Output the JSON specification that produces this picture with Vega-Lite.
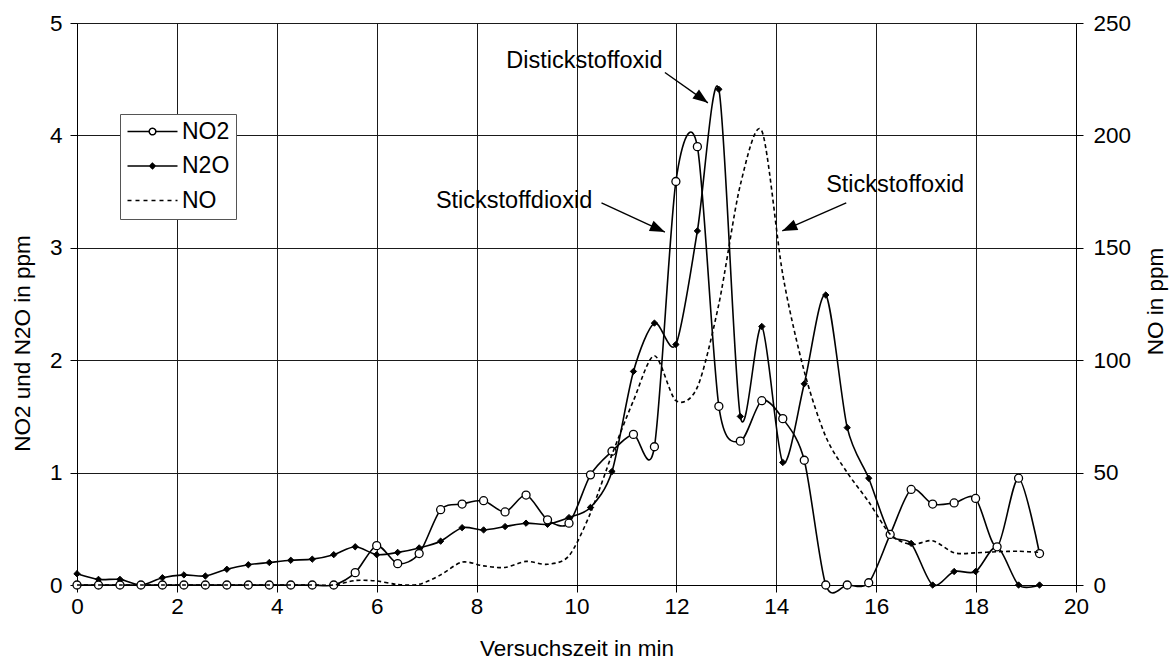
{
  "$schema": "https://vega.github.io/schema/vega-lite/v6.json",
  "width": 999,
  "height": 562,
  "autosize": {"type": "none"},
  "padding": {"left": 77, "top": 23, "right": 98, "bottom": 87},
  "background": "white",
  "config": {
    "font": "Liberation Sans",
    "view": {"stroke": null},
    "axis": {
      "labelFont": "Liberation Sans",
      "titleFont": "Liberation Sans",
      "labelFontSize": 22.5,
      "titleFontSize": 22.5,
      "titleFontWeight": "normal",
      "labelColor": "#000",
      "titleColor": "#000",
      "tickColor": "#000",
      "domainColor": "#000",
      "gridColor": "#1a1a1a",
      "gridWidth": 1,
      "tickSize": 7,
      "labelFlush": false,
      "labelOverlap": false
    },
    "legend": {
      "orient": "none",
      "legendX": 43,
      "legendY": 91,
      "padding": 6,
      "rowPadding": 10.5,
      "symbolSize": 100,
      "symbolStrokeWidth": 1.5,
      "symbolOpacity": 1,
      "labelOffset": 33,
      "labelFont": "Liberation Sans",
      "labelFontSize": 23,
      "labelColor": "#000",
      "strokeColor": "#555",
      "fillColor": "#fff"
    }
  },
  "datasets": {
    "messung": [
      {"t": 0, "series": "NO2", "ppm": 0}, {"t": 0.43, "series": "NO2", "ppm": 0}, {"t": 0.86, "series": "NO2", "ppm": 0},
      {"t": 1.28, "series": "NO2", "ppm": 0}, {"t": 1.71, "series": "NO2", "ppm": 0}, {"t": 2.14, "series": "NO2", "ppm": 0},
      {"t": 2.57, "series": "NO2", "ppm": 0}, {"t": 3.0, "series": "NO2", "ppm": 0}, {"t": 3.43, "series": "NO2", "ppm": 0},
      {"t": 3.85, "series": "NO2", "ppm": 0}, {"t": 4.28, "series": "NO2", "ppm": 0}, {"t": 4.71, "series": "NO2", "ppm": 0},
      {"t": 5.14, "series": "NO2", "ppm": 0}, {"t": 5.57, "series": "NO2", "ppm": 0.11}, {"t": 6.0, "series": "NO2", "ppm": 0.35},
      {"t": 6.42, "series": "NO2", "ppm": 0.19}, {"t": 6.85, "series": "NO2", "ppm": 0.28}, {"t": 7.28, "series": "NO2", "ppm": 0.67},
      {"t": 7.71, "series": "NO2", "ppm": 0.72}, {"t": 8.14, "series": "NO2", "ppm": 0.75}, {"t": 8.57, "series": "NO2", "ppm": 0.65},
      {"t": 8.99, "series": "NO2", "ppm": 0.8}, {"t": 9.42, "series": "NO2", "ppm": 0.58}, {"t": 9.85, "series": "NO2", "ppm": 0.55},
      {"t": 10.28, "series": "NO2", "ppm": 0.98}, {"t": 10.71, "series": "NO2", "ppm": 1.19}, {"t": 11.14, "series": "NO2", "ppm": 1.34},
      {"t": 11.56, "series": "NO2", "ppm": 1.23}, {"t": 11.99, "series": "NO2", "ppm": 3.59}, {"t": 12.42, "series": "NO2", "ppm": 3.9},
      {"t": 12.85, "series": "NO2", "ppm": 1.59}, {"t": 13.28, "series": "NO2", "ppm": 1.28}, {"t": 13.71, "series": "NO2", "ppm": 1.64},
      {"t": 14.13, "series": "NO2", "ppm": 1.48}, {"t": 14.56, "series": "NO2", "ppm": 1.11}, {"t": 14.99, "series": "NO2", "ppm": 0},
      {"t": 15.42, "series": "NO2", "ppm": 0}, {"t": 15.85, "series": "NO2", "ppm": 0.02}, {"t": 16.28, "series": "NO2", "ppm": 0.45},
      {"t": 16.7, "series": "NO2", "ppm": 0.85}, {"t": 17.13, "series": "NO2", "ppm": 0.72}, {"t": 17.56, "series": "NO2", "ppm": 0.73},
      {"t": 17.99, "series": "NO2", "ppm": 0.77}, {"t": 18.42, "series": "NO2", "ppm": 0.34}, {"t": 18.85, "series": "NO2", "ppm": 0.95},
      {"t": 19.27, "series": "NO2", "ppm": 0.28},

      {"t": 0, "series": "N2O", "ppm": 0.1}, {"t": 0.43, "series": "N2O", "ppm": 0.05}, {"t": 0.86, "series": "N2O", "ppm": 0.05},
      {"t": 1.28, "series": "N2O", "ppm": 0.0}, {"t": 1.71, "series": "N2O", "ppm": 0.065}, {"t": 2.14, "series": "N2O", "ppm": 0.09},
      {"t": 2.57, "series": "N2O", "ppm": 0.08}, {"t": 3.0, "series": "N2O", "ppm": 0.14}, {"t": 3.43, "series": "N2O", "ppm": 0.18},
      {"t": 3.85, "series": "N2O", "ppm": 0.2}, {"t": 4.28, "series": "N2O", "ppm": 0.22}, {"t": 4.71, "series": "N2O", "ppm": 0.23},
      {"t": 5.14, "series": "N2O", "ppm": 0.27}, {"t": 5.57, "series": "N2O", "ppm": 0.34}, {"t": 6.0, "series": "N2O", "ppm": 0.27},
      {"t": 6.42, "series": "N2O", "ppm": 0.29}, {"t": 6.85, "series": "N2O", "ppm": 0.33}, {"t": 7.28, "series": "N2O", "ppm": 0.39},
      {"t": 7.71, "series": "N2O", "ppm": 0.51}, {"t": 8.14, "series": "N2O", "ppm": 0.49}, {"t": 8.57, "series": "N2O", "ppm": 0.52},
      {"t": 8.99, "series": "N2O", "ppm": 0.55}, {"t": 9.42, "series": "N2O", "ppm": 0.54}, {"t": 9.85, "series": "N2O", "ppm": 0.6},
      {"t": 10.28, "series": "N2O", "ppm": 0.69}, {"t": 10.71, "series": "N2O", "ppm": 1.01}, {"t": 11.14, "series": "N2O", "ppm": 1.9},
      {"t": 11.56, "series": "N2O", "ppm": 2.33}, {"t": 11.99, "series": "N2O", "ppm": 2.14}, {"t": 12.42, "series": "N2O", "ppm": 3.15},
      {"t": 12.85, "series": "N2O", "ppm": 4.41}, {"t": 13.28, "series": "N2O", "ppm": 1.5}, {"t": 13.71, "series": "N2O", "ppm": 2.3},
      {"t": 14.13, "series": "N2O", "ppm": 1.09}, {"t": 14.56, "series": "N2O", "ppm": 1.79}, {"t": 14.99, "series": "N2O", "ppm": 2.58},
      {"t": 15.42, "series": "N2O", "ppm": 1.4}, {"t": 15.85, "series": "N2O", "ppm": 0.95}, {"t": 16.28, "series": "N2O", "ppm": 0.45},
      {"t": 16.7, "series": "N2O", "ppm": 0.37}, {"t": 17.13, "series": "N2O", "ppm": 0.0}, {"t": 17.56, "series": "N2O", "ppm": 0.12},
      {"t": 17.99, "series": "N2O", "ppm": 0.12}, {"t": 18.42, "series": "N2O", "ppm": 0.34}, {"t": 18.85, "series": "N2O", "ppm": 0.0},
      {"t": 19.27, "series": "N2O", "ppm": 0.0},

      {"t": 0, "series": "NO", "ppm": 0}, {"t": 0.43, "series": "NO", "ppm": 0}, {"t": 0.86, "series": "NO", "ppm": 0},
      {"t": 1.28, "series": "NO", "ppm": 0}, {"t": 1.71, "series": "NO", "ppm": 0}, {"t": 2.14, "series": "NO", "ppm": 0},
      {"t": 2.57, "series": "NO", "ppm": 0}, {"t": 3.0, "series": "NO", "ppm": 0}, {"t": 3.43, "series": "NO", "ppm": 0},
      {"t": 3.85, "series": "NO", "ppm": 0}, {"t": 4.28, "series": "NO", "ppm": 0}, {"t": 4.71, "series": "NO", "ppm": 0},
      {"t": 5.14, "series": "NO", "ppm": 0}, {"t": 5.57, "series": "NO", "ppm": 2.0}, {"t": 6.0, "series": "NO", "ppm": 1.8},
      {"t": 6.42, "series": "NO", "ppm": 0.2}, {"t": 6.85, "series": "NO", "ppm": 0.3}, {"t": 7.28, "series": "NO", "ppm": 4.5},
      {"t": 7.71, "series": "NO", "ppm": 10.2}, {"t": 8.14, "series": "NO", "ppm": 8.5}, {"t": 8.57, "series": "NO", "ppm": 7.8},
      {"t": 8.99, "series": "NO", "ppm": 10.5}, {"t": 9.42, "series": "NO", "ppm": 9.2}, {"t": 9.85, "series": "NO", "ppm": 13},
      {"t": 10.28, "series": "NO", "ppm": 32}, {"t": 10.71, "series": "NO", "ppm": 58}, {"t": 11.14, "series": "NO", "ppm": 82},
      {"t": 11.56, "series": "NO", "ppm": 102}, {"t": 11.99, "series": "NO", "ppm": 82}, {"t": 12.42, "series": "NO", "ppm": 88},
      {"t": 12.85, "series": "NO", "ppm": 125}, {"t": 13.28, "series": "NO", "ppm": 178}, {"t": 13.71, "series": "NO", "ppm": 202},
      {"t": 14.13, "series": "NO", "ppm": 138}, {"t": 14.56, "series": "NO", "ppm": 95}, {"t": 14.99, "series": "NO", "ppm": 66},
      {"t": 15.42, "series": "NO", "ppm": 50}, {"t": 15.85, "series": "NO", "ppm": 37}, {"t": 16.28, "series": "NO", "ppm": 22.6},
      {"t": 16.7, "series": "NO", "ppm": 18}, {"t": 17.13, "series": "NO", "ppm": 19.7}, {"t": 17.56, "series": "NO", "ppm": 14.3},
      {"t": 17.99, "series": "NO", "ppm": 14.3}, {"t": 18.42, "series": "NO", "ppm": 14.8}, {"t": 18.85, "series": "NO", "ppm": 15},
      {"t": 19.27, "series": "NO", "ppm": 14.5}
    ],
    "notes": [
      {"note": "Distickstoffoxid", "tx": 10.16, "ty": 4.66, "ax": 11.77, "ay": 4.56, "bx": 12.63, "by": 4.29},
      {"note": "Stickstoffdioxid", "tx": 8.75, "ty": 3.42, "ax": 10.5, "ay": 3.4, "bx": 11.77, "by": 3.14},
      {"note": "Stickstoffoxid", "tx": 16.38, "ty": 3.56, "ax": 15.4, "ay": 3.4, "bx": 14.12, "by": 3.15}
    ]
  },
  "layer": [
    {
      "layer": [
        {
          "data": {"name": "messung"},
          "transform": [{"filter": "datum.series === 'NO2'"}],
          "mark": {"type": "line", "interpolate": "cardinal", "tension": 0.15, "color": "#000", "strokeWidth": 1.6},
          "encoding": {
            "x": {
              "field": "t", "type": "quantitative",
              "scale": {"domain": [0, 20], "nice": false, "zero": false},
              "axis": {
                "values": [0, 2, 4, 6, 8, 10, 12, 14, 16, 18, 20],
                "grid": true, "title": "Versuchszeit in min",
                "labelPadding": 3, "titlePadding": 20
              }
            },
            "y": {
              "field": "ppm", "type": "quantitative",
              "scale": {"domain": [0, 5], "nice": false},
              "axis": {
                "values": [0, 1, 2, 3, 4, 5], "format": "d",
                "grid": true, "title": "NO2 und N2O in ppm",
                "labelPadding": 8, "titleAngle": 270, "titleBaseline": "middle",
                "titleX": -55, "titleY": 320
              }
            }
          }
        },
        {
          "data": {"name": "messung"},
          "transform": [{"filter": "datum.series === 'N2O'"}],
          "mark": {"type": "line", "interpolate": "cardinal", "tension": 0.15, "color": "#000", "strokeWidth": 1.6},
          "encoding": {
            "x": {"field": "t", "type": "quantitative"},
            "y": {"field": "ppm", "type": "quantitative"}
          }
        },
        {
          "data": {"name": "messung"},
          "transform": [{"filter": "datum.series === 'N2O'"}],
          "mark": {"type": "point", "shape": "diamond", "size": 40, "filled": true, "fill": "#000", "stroke": "#000", "strokeWidth": 1, "opacity": 1},
          "encoding": {
            "x": {"field": "t", "type": "quantitative"},
            "y": {"field": "ppm", "type": "quantitative"}
          }
        },
        {
          "data": {"name": "messung"},
          "transform": [{"filter": "datum.series === 'NO2'"}],
          "mark": {"type": "point", "shape": "circle", "size": 64, "filled": true, "fill": "#fff", "stroke": "#000", "strokeWidth": 1.3, "opacity": 1},
          "encoding": {
            "x": {"field": "t", "type": "quantitative"},
            "y": {"field": "ppm", "type": "quantitative"}
          }
        },
        {
          "data": {"name": "messung"},
          "transform": [{"filter": "datum.t < 0"}],
          "mark": {"type": "point", "filled": true, "strokeWidth": 1.5, "size": 100, "opacity": 1},
          "encoding": {
            "x": {"field": "t", "type": "quantitative"},
            "y": {"field": "ppm", "type": "quantitative"},
            "shape": {
              "field": "series", "type": "nominal",
              "scale": {"domain": ["NO2", "N2O", "NO"], "range": [
                "M-2,0H2.34M3.66,0H8M2.34,0A0.66,0.66,0,1,1,3.66,0A0.66,0.66,0,1,1,2.34,0Z",
                "M-2,0H8M3,-0.55L3.55,0L3,0.55L2.45,0Z",
                "M-2,0H8"
              ]},
              "legend": {"title": null}
            },
            "fill": {
              "field": "series", "type": "nominal",
              "scale": {"domain": ["NO2", "N2O", "NO"], "range": ["#fff", "#000", "transparent"]},
              "legend": {"title": null}
            },
            "stroke": {
              "field": "series", "type": "nominal",
              "scale": {"domain": ["NO2", "N2O", "NO"], "range": ["#000", "#000", "#000"]},
              "legend": {"title": null}
            },
            "strokeDash": {
              "field": "series", "type": "nominal",
              "scale": {"domain": ["NO2", "N2O", "NO"], "range": [[1, 0], [1, 0], [4, 4]]},
              "legend": {"title": null}
            }
          }
        },
        {
          "data": {"name": "notes"},
          "mark": {"type": "rule", "color": "#000", "strokeWidth": 1.4},
          "encoding": {
            "x": {"field": "ax", "type": "quantitative"},
            "y": {"field": "ay", "type": "quantitative"},
            "x2": {"field": "bx"},
            "y2": {"field": "by"}
          }
        },
        {
          "data": {"name": "notes"},
          "transform": [{"filter": "datum.note === 'Distickstoffoxid'"}],
          "mark": {"type": "point", "shape": "M0,0L-0.75,2L0.75,2Z", "angle": 125.9, "size": 225, "filled": true, "fill": "#000", "strokeWidth": 0, "opacity": 1},
          "encoding": {
            "x": {"field": "bx", "type": "quantitative"},
            "y": {"field": "by", "type": "quantitative"}
          }
        },
        {
          "data": {"name": "notes"},
          "transform": [{"filter": "datum.note === 'Stickstoffdioxid'"}],
          "mark": {"type": "point", "shape": "M0,0L-0.75,2L0.75,2Z", "angle": 114.2, "size": 225, "filled": true, "fill": "#000", "strokeWidth": 0, "opacity": 1},
          "encoding": {
            "x": {"field": "bx", "type": "quantitative"},
            "y": {"field": "by", "type": "quantitative"}
          }
        },
        {
          "data": {"name": "notes"},
          "transform": [{"filter": "datum.note === 'Stickstoffoxid'"}],
          "mark": {"type": "point", "shape": "M0,0L-0.75,2L0.75,2Z", "angle": 246.1, "size": 225, "filled": true, "fill": "#000", "strokeWidth": 0, "opacity": 1},
          "encoding": {
            "x": {"field": "bx", "type": "quantitative"},
            "y": {"field": "by", "type": "quantitative"}
          }
        },
        {
          "data": {"name": "notes"},
          "mark": {"type": "text", "font": "Liberation Sans", "fontSize": 23.5, "color": "#000", "align": "center", "baseline": "middle"},
          "encoding": {
            "x": {"field": "tx", "type": "quantitative"},
            "y": {"field": "ty", "type": "quantitative"},
            "text": {"field": "note"}
          }
        }
      ]
    },
    {
      "data": {"name": "messung"},
      "transform": [{"filter": "datum.series === 'NO'"}],
      "mark": {"type": "line", "interpolate": "cardinal", "tension": 0.15, "color": "#000", "strokeWidth": 1.6, "strokeDash": [4, 3]},
      "encoding": {
        "x": {"field": "t", "type": "quantitative"},
        "y": {
          "field": "ppm", "type": "quantitative",
          "scale": {"domain": [0, 250], "nice": false},
          "axis": {
            "orient": "right",
            "values": [0, 50, 100, 150, 200, 250],
            "grid": false, "title": "NO in ppm",
            "labelPadding": 10, "titleAngle": 270, "titleBaseline": "middle",
            "titleX": 79, "titleY": 278
          }
        }
      }
    }
  ],
  "resolve": {"scale": {"y": "independent"}}
}
